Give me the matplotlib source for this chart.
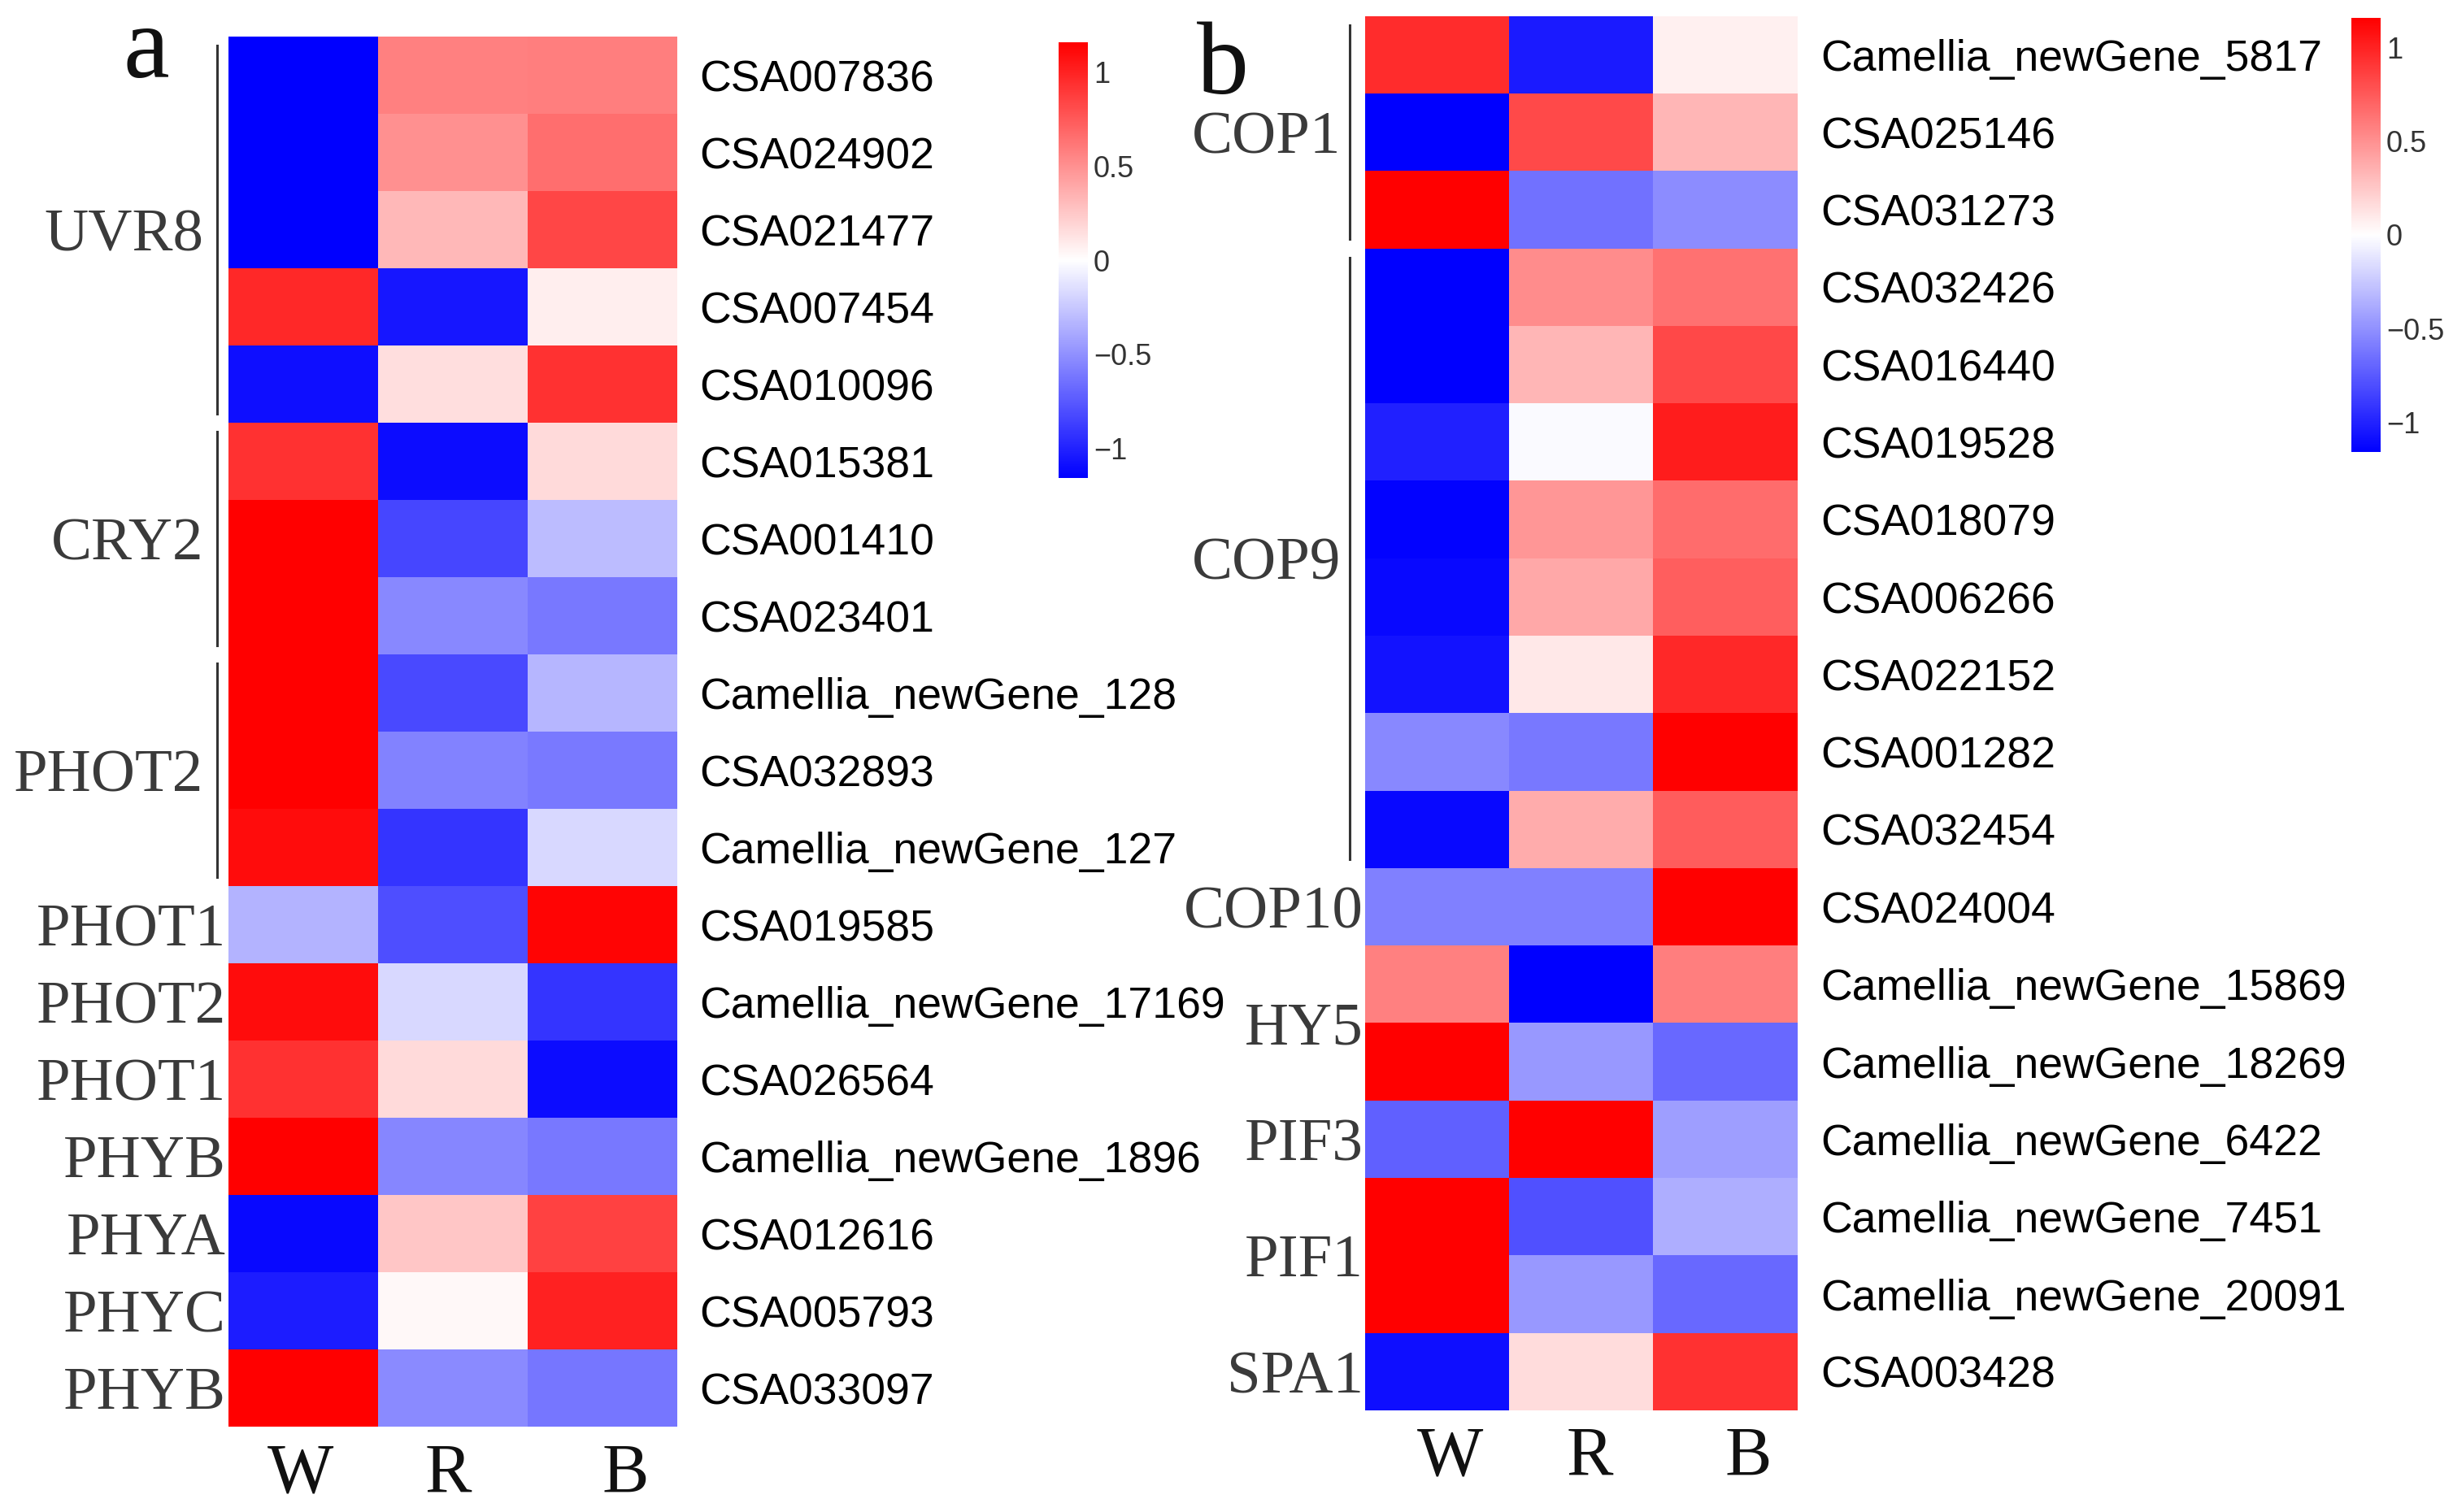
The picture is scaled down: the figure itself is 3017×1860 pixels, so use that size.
import matplotlib
matplotlib.use('Agg')
import matplotlib.pyplot as plt
import numpy as np
from matplotlib.colors import LinearSegmentedColormap

plt.rcParams['font.family'] = 'Liberation Sans'

cols = ['W', 'R', 'B']

genes_a = ['CSA007836', 'CSA024902', 'CSA021477', 'CSA007454', 'CSA010096',
           'CSA015381', 'CSA001410', 'CSA023401', 'Camellia_newGene_128',
           'CSA032893', 'Camellia_newGene_127', 'CSA019585',
           'Camellia_newGene_17169', 'CSA026564', 'Camellia_newGene_1896',
           'CSA012616', 'CSA005793', 'CSA033097']
vals_a = [[-1.155, 0.575, 0.58],
          [-1.155, 0.50, 0.655],
          [-1.155, 0.32, 0.835],
          [0.97, -1.06, 0.08],
          [-1.09, 0.15, 0.93],
          [0.93, -1.10, 0.17],
          [1.155, -0.84, -0.30],
          [1.155, -0.54, -0.61],
          [1.155, -0.82, -0.33],
          [1.155, -0.57, -0.60],
          [1.10, -0.92, -0.18],
          [-0.34, -0.80, 1.14],
          [1.10, -0.18, -0.92],
          [0.93, 0.17, -1.10],
          [1.155, -0.55, -0.61],
          [-1.12, 0.26, 0.86],
          [-1.03, 0.03, 1.00],
          [1.155, -0.53, -0.625]]
groups_a = [('UVR8', 0, 4, True), ('CRY2', 5, 7, True), ('PHOT2', 8, 10, True),
            ('PHOT1', 11, 11, False), ('PHOT2', 12, 12, False),
            ('PHOT1', 13, 13, False), ('PHYB', 14, 14, False),
            ('PHYA', 15, 15, False), ('PHYC', 16, 16, False),
            ('PHYB', 17, 17, False)]

genes_b = ['Camellia_newGene_5817', 'CSA025146', 'CSA031273', 'CSA032426',
           'CSA016440', 'CSA019528', 'CSA018079', 'CSA006266', 'CSA022152',
           'CSA001282', 'CSA032454', 'CSA024004', 'Camellia_newGene_15869',
           'Camellia_newGene_18269', 'Camellia_newGene_6422',
           'Camellia_newGene_7451', 'Camellia_newGene_20091', 'CSA003428']
vals_b = [[0.96, -1.04, 0.07],
          [-1.155, 0.82, 0.335],
          [1.155, -0.64, -0.52],
          [-1.155, 0.52, 0.635],
          [-1.155, 0.33, 0.825],
          [-1.01, -0.02, 1.03],
          [-1.15, 0.48, 0.67],
          [-1.12, 0.39, 0.73],
          [-1.07, 0.10, 0.97],
          [-0.54, -0.615, 1.155],
          [-1.12, 0.38, 0.74],
          [-0.58, -0.575, 1.155],
          [0.575, -1.155, 0.58],
          [1.155, -0.47, -0.685],
          [-0.72, 1.155, -0.435],
          [1.155, -0.79, -0.365],
          [1.155, -0.47, -0.685],
          [-1.09, 0.16, 0.93]]
groups_b = [('COP1', 0, 2, True), ('COP9', 3, 10, True),
            ('COP10', 11, 11, False), ('HY5', 12, 13, False),
            ('PIF3', 14, 14, False), ('PIF1', 15, 16, False),
            ('SPA1', 17, 17, False)]

cmap = LinearSegmentedColormap.from_list('bwr2', ['#0000FF', '#FFFFFF', '#FF0000'])
vlim = 1.16
serif = 'Liberation Serif'

W, H = 3017, 1860
fig = plt.figure(figsize=(W / 100, H / 100), dpi=100)


def px(x0, y0, x1, y1):
    # pixel box (top-left origin) -> figure fraction rect
    return [x0 / W, 1 - y1 / H, (x1 - x0) / W, (y1 - y0) / H]


def panel(rect, genes, vals, groups, lab_x, line_x, cb_rect, letter, letter_xy,
          col_y, col_dx):
    ax = fig.add_axes(rect)
    im = ax.imshow(np.array(vals), cmap=cmap, vmin=-vlim, vmax=vlim,
                   aspect='auto', interpolation='nearest')
    for s in ax.spines.values():
        s.set_visible(False)
    ax.set_xticks([])
    # column letters, a bit off-centre like the original
    xtr = ax.get_xaxis_transform()
    for i, (c, dx) in enumerate(zip(cols, col_dx)):
        ax.text(i + dx, col_y, c, transform=xtr, ha='center',
                va='center_baseline', family=serif, fontsize=62, color='#111111')
    ax.yaxis.tick_right()
    ax.set_yticks(range(len(genes)))
    ax.set_yticklabels(genes, fontsize=38.5)
    ax.tick_params(axis='y', length=0, pad=20)
    tr = ax.get_yaxis_transform()
    for name, r0, r1, bracket in groups:
        x = lab_x[0] if bracket else lab_x[1]
        ax.text(x, (r0 + r1) / 2, name, transform=tr, ha='right',
                va='center_baseline', family=serif, fontsize=54, color='#3a3a3a')
        if bracket:
            ax.plot([line_x, line_x], [r0 - 0.38, r1 + 0.38], transform=tr,
                    color='#333333', lw=2.2, clip_on=False)
    cax = fig.add_axes(cb_rect)
    cb = fig.colorbar(im, cax=cax, ticks=[-1, -0.5, 0, 0.5, 1])
    cb.set_ticklabels(['\u22121', '\u22120.5', '0', '0.5', '1'])
    cb.outline.set_visible(False)
    cax.tick_params(length=0, pad=5, labelsize=26, colors='#333333')
    fig.text(letter_xy[0] / W, 1 - letter_xy[1] / H, letter, family=serif,
             fontsize=92, ha='left', va='baseline', color='#111111')
    return ax


panel(px(281, 45, 832, 1755), genes_a, vals_a, groups_a,
      (-0.056, -0.006), -0.0254, px(1302, 52, 1338, 588), 'a', (152, 95),
      -0.0292, (-0.02, -0.03, 0.16))
panel(px(1679, 20, 2211, 1735), genes_b, vals_b, groups_b,
      (-0.055, -0.004), -0.0357, px(2892, 22, 2928, 556), 'b', (1472, 115),
      -0.0286, (0.09, 0.06, 0.16))

fig.savefig('out.png', dpi=100, facecolor='white')
